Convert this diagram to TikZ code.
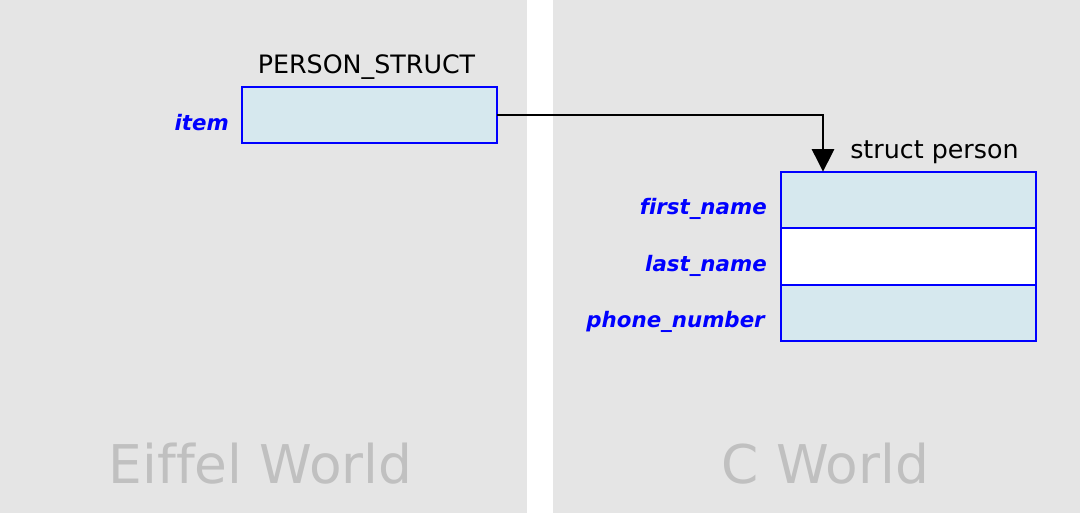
\documentclass[tikz,border=0pt]{standalone}
\usepackage{fontspec}
\setmainfont[Ligatures=NoCommon,BoldItalicFont={DejaVu Sans Bold Oblique}]{DejaVu Sans}
\usetikzlibrary{arrows.meta}

\definecolor{worldgray}{HTML}{E5E5E5}
\definecolor{worldtext}{HTML}{C0C0C0}
\definecolor{cellblue}{HTML}{D6E8EE}

\begin{document}
\begin{tikzpicture}[x=0.75pt,y=-0.75pt,
    cell/.style={draw=blue,line width=1.8pt,fill=cellblue,minimum width=191.25pt,minimum height=42.4pt,inner sep=0pt,outer sep=0pt},
    field/.style={text=blue,font=\fontsize{16}{19}\selectfont\bfseries\itshape,anchor=base east,inner sep=0pt},
    title/.style={font=\fontsize{19}{23}\selectfont,inner sep=0pt},
    world/.style={text=worldtext,font=\fontsize{40}{48}\selectfont,anchor=base,inner sep=0pt}]
        \useasboundingbox (0,0) rectangle (1080,519);
        % 两个世界的背景
        \fill[worldgray] (0,0) rectangle (527,513);
        \fill[worldgray] (553,0) rectangle (1080,513);
        \node[world] (eiffel) at (260.5,483) {Eiffel World};
        \node[world] (cworld) at (825.5,483) {C World};
        % Eiffel 一侧
        \node[cell] (item) at (369.5,115) {};
        \node[field] (itemlabel) at (229,130) {item};
        \node[title,anchor=base] (pstruct) at (366.5,73) {PERSON\_STRUCT};
        % C 一侧的结构体
        \node[cell] (first) at (908.5,200) {};
        \node[cell,fill=white] (last) at (908.5,256.5) {};
        \node[cell] (phone) at (908.5,313) {};
        \node[field] (firstlabel) at (767,214) {first\_name};
        \node[field] (lastlabel) at (767,271) {last\_name};
        \node[field] (phonelabel) at (765,327) {phone\_number};
        \node[title,anchor=base west] (sperson) at (850,158) {struct person};
        % 指针
        \coordinate (target) at ([xshift=31.5pt]first.north west);
        \draw[line width=2.1pt,-{Triangle[length=17pt,width=16.5pt]}] (item.east) -| (target);
    \end{tikzpicture}
\end{document}
